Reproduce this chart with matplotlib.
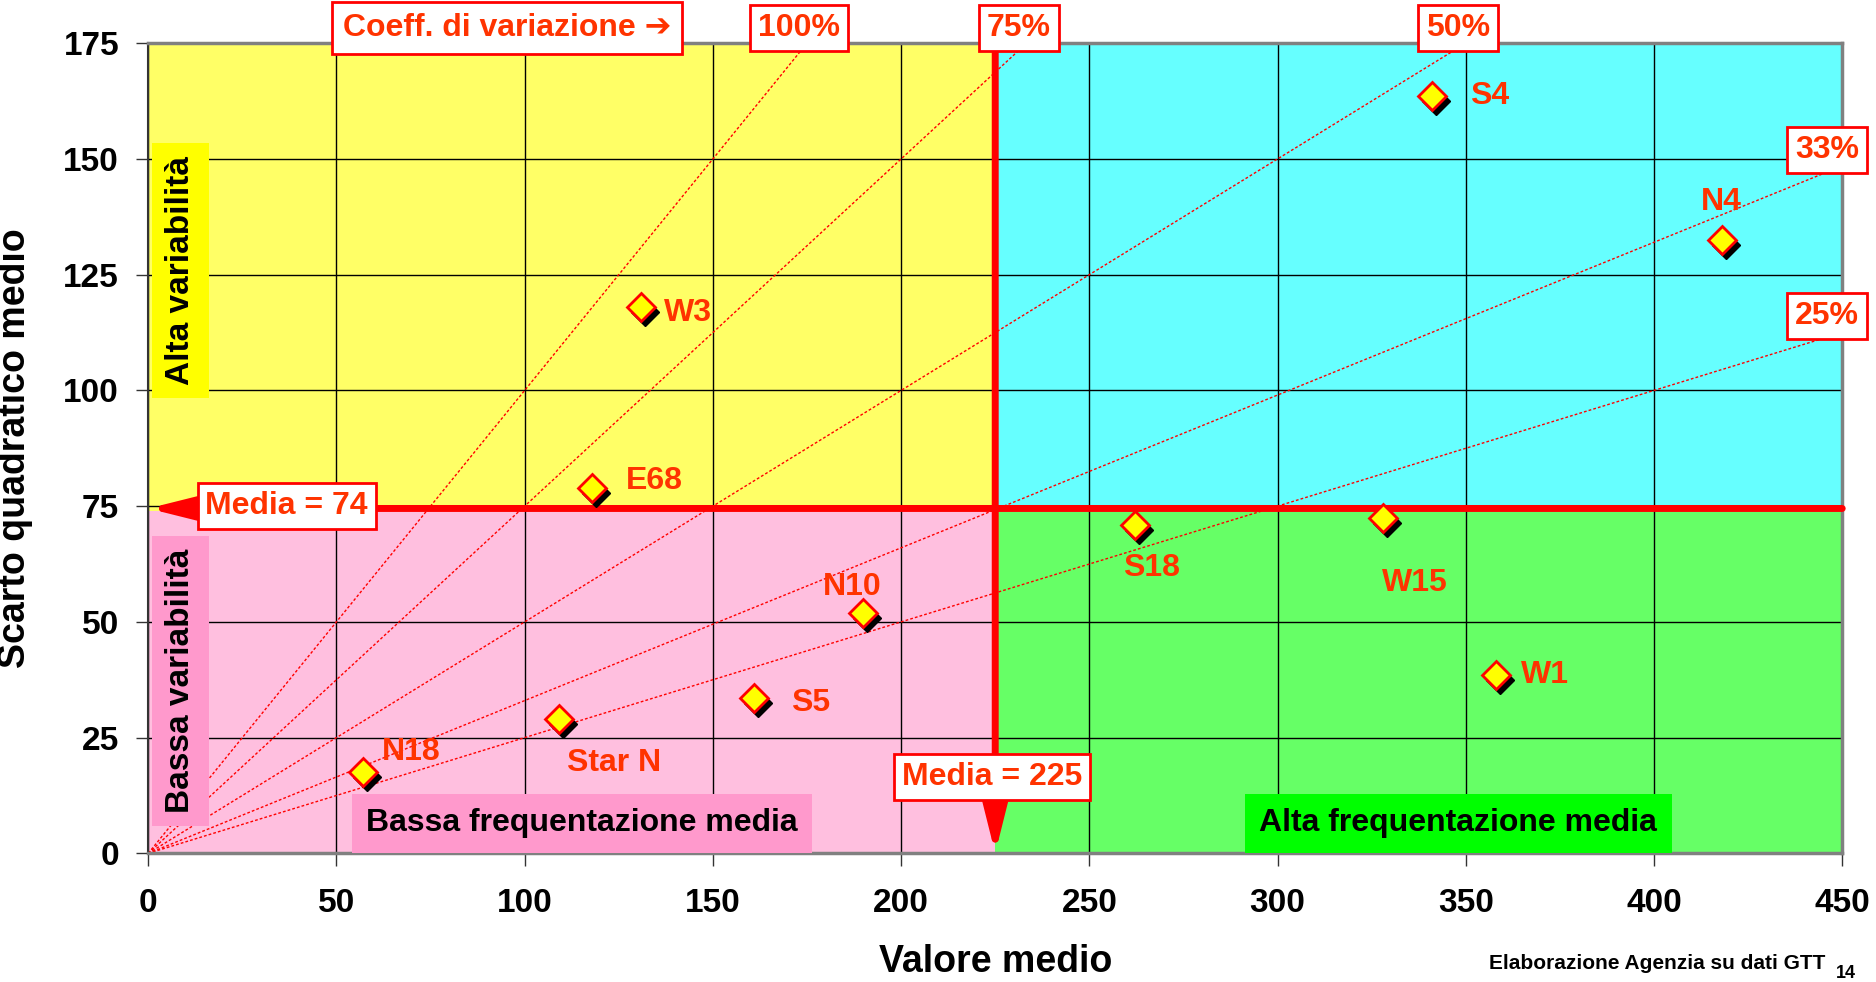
import matplotlib
matplotlib.use("Agg")
import matplotlib.pyplot as plt
from matplotlib.patches import Rectangle
from matplotlib import transforms

# linee / punti (valore medio, scarto quadratico medio)
linee = ["S4", "N4", "W3", "E68", "S18", "W15", "N10", "W1", "S5", "Star N", "N18"]
valore_medio = [341, 418, 131, 118, 262, 328, 190, 358, 161, 109, 57]
scarto_qm = [163.5, 132.5, 118, 79, 71, 72.5, 52, 38.5, 33.5, 29, 17.5]

media_x = 225
media_y = 74

coeff_var = [1.00, 0.75, 0.50, 0.33, 0.25]
coeff_labels = ["100%", "75%", "50%", "33%", "25%"]

x_ticks = [0, 50, 100, 150, 200, 250, 300, 350, 400, 450]
y_ticks = [0, 25, 50, 75, 100, 125, 150, 175]

plt.rcParams['font.family'] = ['Liberation Sans', 'DejaVu Sans']
plt.rcParams['font.weight'] = 'bold'

ROSSO = '#FF3300'
fig = plt.figure(figsize=(18.76, 9.82), dpi=100)
ax = fig.add_axes([0.079, 0.131, 0.903, 0.825])
xmax, ymax = 450, 175
ax.set_xlim(0, xmax)
ax.set_ylim(0, ymax)

# quadranti
ax.add_patch(Rectangle((0, media_y), media_x, ymax - media_y, fc='#FFFF66', ec='none', zorder=0))
ax.add_patch(Rectangle((media_x, media_y), xmax - media_x, ymax - media_y, fc='#66FFFF', ec='none', zorder=0))
ax.add_patch(Rectangle((0, 0), media_x, media_y, fc='#FFBFDF', ec='none', zorder=0))
ax.add_patch(Rectangle((media_x, 0), xmax - media_x, media_y, fc='#66FF66', ec='none', zorder=0))

ax.set_xticks(x_ticks)
ax.set_yticks(y_ticks)
ax.grid(True, color='black', lw=1.0)
ax.tick_params(axis='both', labelsize=24, length=9, width=1, color='#333333')
ax.tick_params(axis='x', pad=16)
ax.tick_params(axis='y', pad=12)
for lab in ax.get_xticklabels() + ax.get_yticklabels():
    lab.set_fontweight('bold')
for s in ax.spines.values():
    s.set_color('#808080')
    s.set_linewidth(2.5)
ax.spines['left'].set_color('#333333')
ax.spines['left'].set_linewidth(1.5)

ax.set_xlabel("Valore medio", fontsize=27, fontweight='bold', labelpad=18)
ax.set_ylabel("Scarto quadratico medio", fontsize=27, fontweight='bold', labelpad=22)

# linee coeff. di variazione
for cv in coeff_var:
    xe = min(xmax, ymax / cv)
    ax.plot([0, xe], [0, cv * xe], color='red', lw=1.0, ls=(0, (2, 1.5)), zorder=2)

box = dict(boxstyle='square,pad=0.25', fc='white', ec='red', lw=2)
for cv, lab in zip(coeff_var, coeff_labels):
    if ymax / cv <= xmax:
        ax.text(ymax / cv - 2, 178.3, lab, fontsize=23, color=ROSSO, ha='center', va='center',
                bbox=box, clip_on=False, zorder=6)
    else:
        ax.text(446, cv * xmax + 3.5, lab, fontsize=23, color=ROSSO, ha='center', va='center',
                bbox=box, clip_on=False, zorder=6)
ax.text(95.3, 178.3, "Coeff. di variazione \u2794", fontsize=23, color=ROSSO, ha='center', va='center',
        bbox=dict(boxstyle='square,pad=0.35', fc='white', ec='red', lw=2), clip_on=False, zorder=6)

# medie
frecce = dict(arrowstyle='-|>,head_length=1.8,head_width=0.45', lw=5, color='red',
              mutation_scale=18, shrinkA=0, shrinkB=0)
ax.annotate('', xy=(0, media_y + 0.5), xytext=(xmax, media_y + 0.5), arrowprops=frecce, zorder=4)
ax.annotate('', xy=(media_x, 0), xytext=(media_x, 176.8), annotation_clip=False,
            arrowprops=frecce, zorder=4)
ax.text(36.8, 75, "Media = %d" % media_y, fontsize=23, color=ROSSO, ha='center', va='center',
        bbox=box, zorder=6)
ax.text(224.2, 16.5, "Media = %d" % media_x, fontsize=23, color=ROSSO, ha='center', va='center',
        bbox=box, zorder=6)

# etichette quadranti
ax.text(8.6, 125.9, "Alta variabilit\u00e0", fontsize=24, rotation=90, ha='center', va='center',
        bbox=dict(boxstyle='square,pad=0.38', fc='#FFFF00', ec='none'), zorder=3)
ax.text(8.6, 37.2, "Bassa variabilit\u00e0", fontsize=24, rotation=90, ha='center', va='center',
        bbox=dict(boxstyle='square,pad=0.38', fc='#FF99CC', ec='none'), zorder=3)
ax.text(115.3, 6.5, "Bassa frequentazione media", fontsize=23, ha='center', va='center',
        bbox=dict(boxstyle='square,pad=0.45', fc='#FF99CC', ec='none'), zorder=3)
ax.text(348, 6.5, "Alta frequentazione media", fontsize=23, ha='center', va='center',
        bbox=dict(boxstyle='square,pad=0.45', fc='#00FF00', ec='none'), zorder=3)

# punti con ombra
ombra = transforms.offset_copy(ax.transData, fig=fig, x=4, y=-5, units='dots')
ax.plot(valore_medio, scarto_qm, 'D', ms=14, color='black', transform=ombra, zorder=7)
ax.plot(valore_medio, scarto_qm, 'D', ms=14, mfc='#FFFF00', mec='red', mew=2, zorder=8)

# offset etichette in pixel
offs = {"S4": (38, 0, 'left'), "N4": (0, 38, 'center'), "W3": (23, -6, 'left'),
        "E68": (33, 7, 'left'), "S18": (17, -43, 'center'), "W15": (32, -65, 'center'),
        "N10": (-11, 26, 'center'), "W1": (25, 0, 'left'), "S5": (37, -5, 'left'),
        "Star N": (56, -44, 'center'), "N18": (19, 20, 'left')}
for nome, xv, yv in zip(linee, valore_medio, scarto_qm):
    dx, dy, ha = offs[nome]
    ax.annotate(nome, (xv, yv), xytext=(dx * 0.72, dy * 0.72), textcoords='offset points',
                fontsize=23, color=ROSSO, ha=ha, va='center', zorder=9)

fig.text(0.973, 0.019, "Elaborazione Agenzia su dati GTT", fontsize=15, ha='right', va='center')
fig.text(0.984, 0.0, "14", fontsize=13, ha='center', va='bottom')

fig.savefig("out.png", dpi=100)
